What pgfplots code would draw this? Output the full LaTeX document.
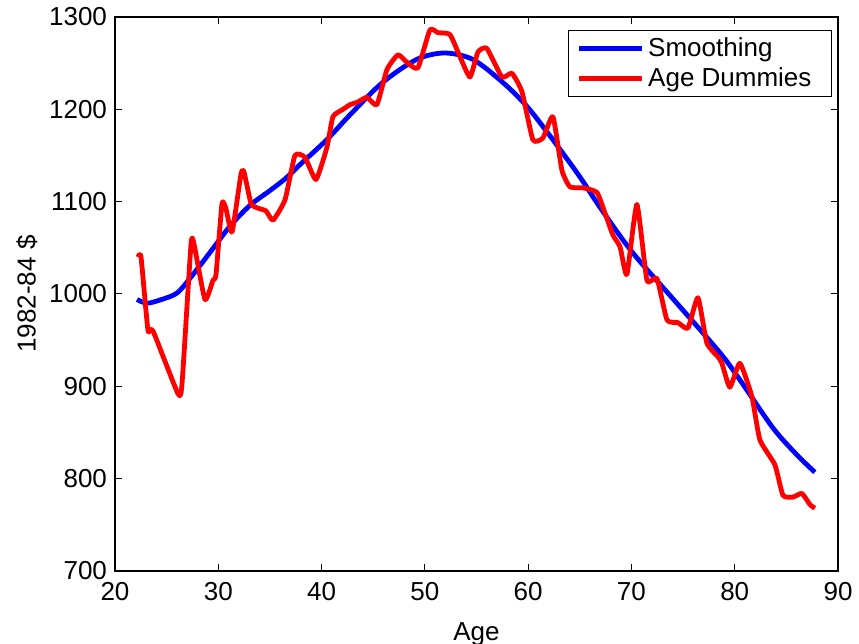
\documentclass[border=0pt]{standalone}
\usepackage{pgfplots}
\pgfplotsset{compat=1.18}
\usepackage{fontspec}
\setmainfont{Liberation Sans}
\definecolor{mblue}{RGB}{0,0,255}
\definecolor{mred}{RGB}{255,0,0}
\begin{document}
\begin{tikzpicture}
\begin{axis}[
  name=ax,
  scale only axis,
  width=361.5pt, height=277pt,
  xmin=20, xmax=90, ymin=700, ymax=1300,
  xtick={20,30,...,90}, ytick={700,800,...,1300},
  tick align=inside,
  major tick length=3.5pt,
  axis line style={line width=0.6pt},
  tick style={line width=0.5pt, black},
  /pgf/number format/assume math mode=true,
  /pgf/number format/1000 sep={},
  ticklabel style={font=\fontsize{13}{15}\selectfont},
  label style={font=\fontsize{13}{15}\selectfont},
  xticklabel style={yshift=-2pt},
  yticklabel style={xshift=-0.5pt},
  xlabel={Age},
  ylabel={1982-84 \$},
  xlabel style={yshift=-4pt},
  ylabel style={yshift=-1pt},
  legend cell align=left,
  legend style={at={(0.9917,0.9765)}, anchor=north east, draw=black, line width=0.5pt,
    font=\fontsize{13}{15}\selectfont, inner xsep=4pt, inner ysep=1.5pt, row sep=0pt},
  legend image code/.code={\draw[#1, line width=2.4pt] (0cm,0cm) -- (0.95cm,0cm); \path (0cm,0cm) -- (1.1cm,0cm);},
]
\addplot[mblue, line width=2.4pt, smooth, tension=0.5] coordinates {
(22.13,994) (23.1,990) (24.5,994) (26.0,1001) (27.26,1017) (29.2,1045) (31.1,1073)
(33.07,1096) (35.0,1112) (36.5,1125) (37.9,1140) (40.5,1167) (42.75,1194) (45.9,1229)
(49.2,1254) (51.9,1261) (54.65,1254) (57.56,1229) (59.9,1203) (62.4,1167) (65.0,1127)
(66.95,1094) (70.1,1045) (74.4,990) (78.6,936) (80.5,907) (83.7,855) (86.0,826) (87.76,807)
};
\addlegendentry{Smoothing}
\addplot[mred, line width=2.4pt, line join=round, smooth, tension=0.3] coordinates {
(22.23,1040) (22.52,1040) (23.19,961) (23.68,960) (26.1,892) (26.49,903) (27.36,1054)
(27.65,1054) (28.71,994) (29.49,1015) (29.78,1021) (30.36,1098) (30.75,1092) (31.33,1067)
(32.2,1130) (32.49,1132) (33.17,1098) (33.84,1093) (34.62,1090) (35.3,1080) (36.46,1102)
(37.42,1150) (38.39,1148) (39.46,1124) (40.52,1159) (41.1,1192) (42.07,1200) (42.75,1205)
(43.52,1208) (44.39,1213) (45.36,1205) (46.33,1243) (47.4,1259) (48.36,1250) (49.33,1245)
(50.49,1286) (51.27,1283) (52.43,1281) (53.4,1257) (54.37,1235) (55.14,1262) (56.0,1266)
(57.46,1235) (58.43,1239) (59.4,1219) (60.46,1167) (61.43,1169) (62.4,1192) (63.27,1134)
(64.05,1116) (65.3,1115) (66.66,1110) (67.43,1088) (68.2,1064) (68.9,1051) (69.56,1021)
(70.53,1097) (71.5,1015) (72.47,1017) (73.44,972) (74.5,969) (75.47,963) (76.44,996)
(77.3,947) (78.37,932) (78.76,925) (79.53,899) (80.5,925) (81.66,889) (82.44,842)
(83.89,815) (84.67,782) (85.63,780) (86.5,784) (87.28,772) (87.76,768)
};
\addlegendentry{Age Dummies\hspace*{4pt}}
\end{axis}
\pgfresetboundingbox
\path ([xshift=-57.5pt,yshift=-36.5pt]ax.south west) rectangle ([xshift=10.5pt,yshift=8.5pt]ax.north east);
\end{tikzpicture}
\end{document}
